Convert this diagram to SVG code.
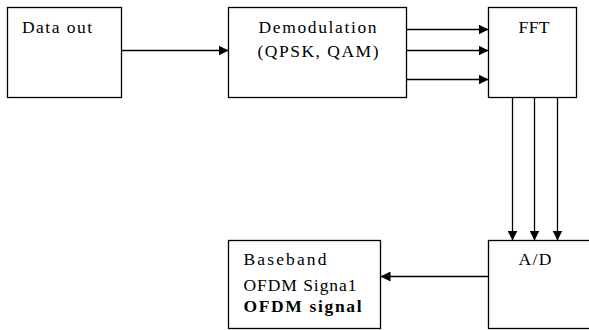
<svg xmlns="http://www.w3.org/2000/svg" width="589" height="330" viewBox="0 0 589 330">
<style>
.box{fill:#fff;stroke:#000;stroke-width:1.3}
text{font-family:'Liberation Serif','DejaVu Serif','Times New Roman',serif;font-size:17.5px;fill:#000}
.b{font-weight:bold}
.c{stroke:#000;stroke-width:1.3;fill:none}
</style>
<defs>
<marker id="ah" viewBox="0 0 10 10" refX="10" refY="5" markerWidth="10" markerHeight="10" markerUnits="userSpaceOnUse" orient="auto">
<path d="M0,0 L10,5 L0,10 Z" fill="#000"/>
</marker>
</defs>
<g id="data-out">
<rect class="box" x="7.5" y="7.5" width="114" height="90"/>
<text font-family="Liberation Serif, serif" x="22" y="33" textLength="70" lengthAdjust="spacing">Data out</text>
</g>
<g id="demodulation">
<rect class="box" x="228.5" y="7.5" width="178" height="90"/>
<text font-family="Liberation Serif, serif" x="258.5" y="33" textLength="118" lengthAdjust="spacing">Demodulation</text>
<text font-family="Liberation Serif, serif" x="257.5" y="57" textLength="121" lengthAdjust="spacing">(QPSK,  QAM)</text>
</g>
<g id="fft">
<rect class="box" x="488.5" y="7.5" width="88" height="90"/>
<text font-family="Liberation Serif, serif" x="518.5" y="32.5" textLength="31" lengthAdjust="spacing">FFT</text>
</g>
<g id="ad">
<rect class="box" x="488.5" y="240.5" width="110" height="88"/>
<text font-family="Liberation Serif, serif" x="518.5" y="264.5" textLength="33" lengthAdjust="spacing">A/D</text>
</g>
<g id="baseband">
<rect class="box" x="228.5" y="240.5" width="152" height="88"/>
<text font-family="Liberation Serif, serif" x="243.5" y="265" textLength="83" lengthAdjust="spacing">Baseband</text>
<text font-family="Liberation Serif, serif" x="243.5" y="290.5" textLength="113" lengthAdjust="spacing">OFDM  Signa1</text>
<text font-family="Liberation Serif, serif" class="b" x="243.5" y="312" textLength="118" lengthAdjust="spacing">OFDM signal</text>
</g>
<g id="connectors">
<line class="c" x1="121.5" y1="50.5" x2="228.5" y2="50.5" marker-end="url(#ah)"/>
<line class="c" x1="406.5" y1="29.5" x2="488.5" y2="29.5" marker-end="url(#ah)"/>
<line class="c" x1="406.5" y1="50.5" x2="488.5" y2="50.5" marker-end="url(#ah)"/>
<line class="c" x1="406.5" y1="79.5" x2="488.5" y2="79.5" marker-end="url(#ah)"/>
<line class="c" x1="512.5" y1="97.5" x2="512.5" y2="240.5" marker-end="url(#ah)"/>
<line class="c" x1="534.5" y1="97.5" x2="534.5" y2="240.5" marker-end="url(#ah)"/>
<line class="c" x1="557.5" y1="97.5" x2="557.5" y2="240.5" marker-end="url(#ah)"/>
<line class="c" x1="488.5" y1="276.5" x2="380.5" y2="276.5" marker-end="url(#ah)"/>
</g>
</svg>
